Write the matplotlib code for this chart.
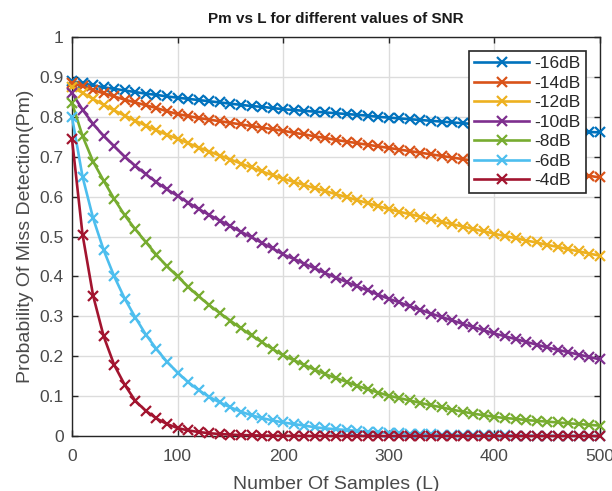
import matplotlib
matplotlib.use("Agg")
import matplotlib.pyplot as plt

# Data
L = list(range(0, 501, 10))
labels = ["-16dB", "-14dB", "-12dB", "-10dB", "-8dB", "-6dB", "-4dB"]
pm_16 = [0.890,0.884,0.879,0.874,0.870,0.866,0.862,0.858,0.855,0.851,0.848,
         0.845,0.842,0.839,0.836,0.833,0.830,0.827,0.825,0.822,0.819,
         0.817,0.815,0.813,0.811,0.809,0.807,0.805,0.803,0.800,0.798,
         0.796,0.794,0.792,0.790,0.788,0.786,0.784,0.782,0.780,0.778,
         0.776,0.775,0.773,0.771,0.769,0.767,0.766,0.764,0.762,0.761]
pm_14 = [0.885,0.876,0.867,0.859,0.851,0.843,0.836,0.829,0.822,0.814,0.807,
         0.802,0.797,0.793,0.789,0.785,0.781,0.777,0.773,0.769,0.765,
         0.760,0.756,0.751,0.747,0.742,0.738,0.734,0.730,0.726,0.722,
         0.718,0.714,0.710,0.706,0.702,0.698,0.694,0.690,0.686,0.682,
         0.679,0.676,0.672,0.669,0.666,0.662,0.659,0.655,0.652,0.648]
pm_12 = [0.875,0.860,0.845,0.830,0.816,0.803,0.790,0.778,0.766,0.755,0.745,
         0.734,0.723,0.713,0.703,0.693,0.683,0.673,0.663,0.654,0.645,
         0.637,0.629,0.621,0.614,0.606,0.599,0.591,0.584,0.576,0.569,
         0.562,0.556,0.550,0.543,0.537,0.531,0.525,0.519,0.513,0.507,
         0.501,0.496,0.490,0.485,0.479,0.474,0.468,0.463,0.457,0.452]
pm_10 = [0.860,0.818,0.782,0.752,0.726,0.700,0.677,0.656,0.636,0.618,0.602,
         0.585,0.569,0.554,0.540,0.526,0.512,0.498,0.484,0.470,0.455,
         0.444,0.432,0.420,0.408,0.397,0.386,0.375,0.365,0.354,0.344,
         0.335,0.325,0.316,0.307,0.298,0.290,0.281,0.273,0.265,0.257,
         0.250,0.243,0.236,0.229,0.222,0.216,0.210,0.204,0.198,0.192]
pm_8 = [0.835,0.752,0.688,0.640,0.594,0.553,0.518,0.486,0.454,0.425,0.400,
        0.374,0.350,0.328,0.308,0.289,0.270,0.252,0.235,0.218,0.202,
        0.190,0.178,0.166,0.155,0.145,0.136,0.126,0.117,0.109,0.101,
        0.095,0.089,0.083,0.077,0.072,0.066,0.061,0.056,0.052,0.048,
        0.045,0.043,0.040,0.038,0.036,0.034,0.032,0.030,0.028,0.026]
pm_6 = [0.800,0.650,0.546,0.466,0.400,0.344,0.297,0.254,0.218,0.186,0.159,
        0.135,0.115,0.098,0.084,0.072,0.061,0.052,0.045,0.039,0.034,
        0.030,0.026,0.022,0.019,0.017,0.015,0.013,0.011,0.009,0.008,
        0.007,0.006,0.005,0.004,0.0035,0.003,0.0025,0.002,0.002,0.0015,
        0.0013,0.0011,0.0010,0.0008,0.0007,0.0006,0.0005,0.0004,0.0004,0.0003]
pm_4 = [0.745,0.505,0.352,0.250,0.178,0.128,0.088,0.063,0.044,0.030,0.020,
        0.014,0.010,0.007,0.005,0.0035,0.0025,0.0018,0.0012,0.0008,0.0005,
        0.0004,0.0003,0.0002,0.00015,0.0001,0.0001,0.0001,0.0001,0.0,0.0,
        0.0,0.0,0.0,0.0,0.0,0.0,0.0,0.0,0.0,0.0,
        0.0,0.0,0.0,0.0,0.0,0.0,0.0,0.0,0.0,0.0]
series = [pm_16, pm_14, pm_12, pm_10, pm_8, pm_6, pm_4]
colors = ["#0072BD", "#D95319", "#EDB120", "#7E2F8E", "#77AC30", "#4DBEEE", "#A2142F"]

plt.rcParams['font.family'] = ['Liberation Sans', 'DejaVu Sans']
dark = "#262626"

fig = plt.figure(figsize=(6.12, 4.91), dpi=100)
ax = fig.add_axes([0.1176, 0.112, 0.8628, 0.8126])

for y, c, lab in zip(series, colors, labels):
    ax.plot(L, y, color=c, lw=1.9, marker='x', ms=6.5, mew=1.6,
            label=lab, clip_on=False, zorder=3)

ax.set_xlim(0, 500)
ax.set_ylim(0, 1)
ax.set_xticks([0, 100, 200, 300, 400, 500])
ax.set_yticks([0, 0.1, 0.2, 0.3, 0.4, 0.5, 0.6, 0.7, 0.8, 0.9, 1])
ax.set_yticklabels(["0", "0.1", "0.2", "0.3", "0.4", "0.5", "0.6", "0.7", "0.8", "0.9", "1"])
ax.grid(True, color="#dcdcdc", lw=1.0, zorder=0)
ax.set_axisbelow(True)
ax.tick_params(direction='in', length=4, width=1, colors=dark, labelsize=12.5,
               top=True, right=True)
ax.tick_params(axis='x', pad=9)
ax.tick_params(axis='y', pad=6)
for tl in ax.get_xticklabels() + ax.get_yticklabels():
    tl.set_color("#4a4a4a")
for s in ax.spines.values():
    s.set_color(dark)
    s.set_linewidth(1.0)

ax.set_title("Pm vs L for different values of SNR", fontsize=11, fontweight='bold',
             color="#1a1a1a", pad=10)
ax.set_xlabel("Number Of Samples (L)", fontsize=14, color="#4a4a4a", labelpad=9)
ax.set_ylabel("Probability Of Miss Detection(Pm)", fontsize=14, color="#4a4a4a", labelpad=4)

leg = ax.legend(loc='upper right', fontsize=12.5, frameon=True, fancybox=False,
                edgecolor=dark, framealpha=1, borderaxespad=0.8,
                handlelength=3.2, handletextpad=0.3, labelspacing=0.25,
                borderpad=0.3)
leg.get_frame().set_linewidth(1.2)
for t in leg.get_texts():
    t.set_color(dark)

fig.savefig("out.png", dpi=100)
